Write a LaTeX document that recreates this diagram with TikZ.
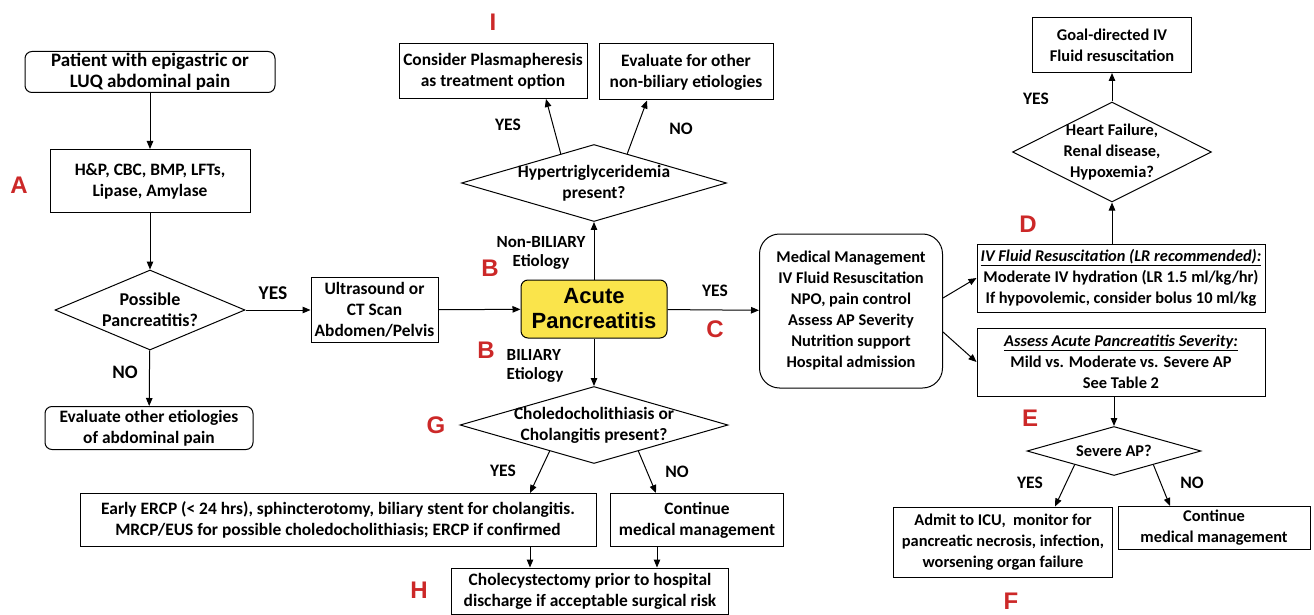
\documentclass[tikz,border=0pt]{standalone}
\usepackage{fontspec}
\setmainfont{Carlito}
\newfontfamily\arialfont{Liberation Sans}
\usetikzlibrary{shapes.geometric,arrows.meta,positioning,calc}
\definecolor{apyellow}{RGB}{250,228,75}
\definecolor{tagred}{RGB}{204,40,40}

\begin{document}
\begin{tikzpicture}[x=1pt,y=-1pt,
  box/.style={rectangle,draw,line width=1pt,align=center,inner sep=1pt,font=\fontsize{17.4}{21}\selectfont\bfseries},
  rbox/.style={box,rounded corners=7pt},
  small/.style={font=\fontsize{16.4}{21}\selectfont\bfseries},
  dec/.style={diamond,draw,line width=1pt,align=center,inner sep=-3pt,font=\fontsize{17.4}{21}\selectfont\bfseries},
  arrow/.style={-{Triangle[length=8pt,width=6.5pt]},line width=1pt},
  tag/.style={font=\arialfont\fontsize{24}{24}\selectfont\bfseries,text=tagred},
  yn/.style={font=\fontsize{17.5}{19}\selectfont\bfseries,align=center}]
\useasboundingbox (0,0) rectangle (1314,615);

% left column
\node[rbox,minimum width=250pt,minimum height=41pt,font=\fontsize{19}{21}\selectfont\bfseries] (pat) at (150,72) {Patient with epigastric or\\LUQ abdominal pain};
\node[box,minimum width=200pt,minimum height=63pt] (hp) at (150,181) {H\&P, CBC, BMP, LFTs,\\Lipase, Amylase};
\node[dec,shape aspect=2.4,minimum width=190pt,minimum height=80pt,font=\fontsize{18}{21}\selectfont\bfseries] (poss) at (150,310) {Possible\\Pancreatitis?};
\node[rbox,minimum width=208pt,minimum height=43pt] (evalo) at (149,428) {Evaluate other etiologies\\of abdominal pain};
\node[box,minimum width=127pt,minimum height=65pt,right=65pt of poss] (us) {Ultrasound or\\CT Scan\\Abdomen/Pelvis};

% acute pancreatitis and non-biliary branch
\node[rbox,fill=apyellow,minimum width=146pt,minimum height=58pt,font=\arialfont\fontsize{22}{25}\selectfont\bfseries] (acute) at (594,309) {Acute\\Pancreatitis};
\node[dec,shape aspect=3.4,minimum width=265pt,minimum height=77pt] (hyp) at (594,183) {Hypertriglyceridemia\\present?};
\node[box,minimum width=188pt,minimum height=55pt] (plas) at (493,71) {Consider Plasmapheresis\\as treatment option};
\node[box,minimum width=174pt,minimum height=56pt] (nonb) at (686,72) {Evaluate for other\\non-biliary etiologies};

% biliary branch
\node[dec,shape aspect=3.5,minimum width=268pt,minimum height=77pt] (cho) at (594,425) {Choledocholithiasis or\\Cholangitis present?};
\node[box,minimum width=516pt,minimum height=53pt] (ercp) at (338,520) {Early ERCP (< 24 hrs), sphincterotomy, biliary stent for cholangitis.\\MRCP/EUS for possible choledocholithiasis; ERCP if confirmed};
\node[box,minimum width=173pt,minimum height=53pt] (cont1) at (697,520) {Continue\\medical management};
\node[box,minimum width=277pt,minimum height=46pt] (chole) at (590,591) {Cholecystectomy prior to hospital\\discharge if acceptable surgical risk};

% medical management
\node[rbox,small,rounded corners=20pt,minimum width=183pt,minimum height=154pt] (med) at (851,311) {Medical Management\\IV Fluid Resuscitation\\NPO, pain control\\Assess AP Severity\\Nutrition support\\Hospital admission};
\node[box,small,minimum width=288pt,minimum height=68pt] (iv) at (1121,278) {\underline{\textit{IV Fluid Resuscitation (LR recommended):}}\\Moderate IV hydration (LR 1.5 ml/kg/hr)\\If hypovolemic, consider bolus 10 ml/kg};
\node[box,small,minimum width=288pt,minimum height=68pt] (assess) at (1121,362) {\underline{\textit{Assess Acute Pancreatitis Severity:}}\\Mild vs. Moderate vs. Severe AP\\See Table 2};
\node[dec,small,shape aspect=2,minimum width=199pt,minimum height=100pt] (heart) at (1112,152) {Heart Failure,\\Renal disease,\\Hypoxemia?};
\node[box,small,minimum width=159pt,minimum height=55pt] (goal) at (1112,45) {Goal-directed IV\\Fluid resuscitation};
\node[dec,small,shape aspect=3.5,minimum width=174pt,minimum height=49pt] (sev) at (1114,451) {Severe AP?};
\node[box,small,minimum width=219pt,minimum height=70pt] (admit) at (1003,542) {Admit to ICU,~ monitor for\\pancreatic necrosis, infection,\\worsening organ failure};
\node[box,small,minimum width=192pt,minimum height=43pt] (cont2) at (1214,528) {Continue\\medical management};

% connectors
\draw[arrow] (pat) -- (hp);
\draw[arrow] (hp) -- (poss);
\draw[arrow] (poss) -- (evalo);
\draw[arrow] (poss) -- (us);
\draw[arrow] (us) -- (acute);
\draw[arrow] (acute) -- (hyp);
\draw[arrow] ($(hyp.north)!0.25!(hyp.west)$) -- ([xshift=53pt]plas.south);
\draw[arrow] ($(hyp.north)!0.25!(hyp.east)$) -- ([xshift=-39pt]nonb.south);
\draw[arrow] (acute) -- (cho);
\draw[arrow] ($(cho.south)!0.33!(cho.west)$) -- ([xshift=192pt]ercp.north);
\draw[arrow] ($(cho.south)!0.33!(cho.east)$) -- ([xshift=-41pt]cont1.north);
\draw[arrow] ([xshift=192pt]ercp.south) -- ([xshift=192pt]ercp.south |- chole.north);
\draw[arrow] ([xshift=-40pt]cont1.south) -- ([xshift=-40pt]cont1.south |- chole.north);
\draw[arrow] (acute) -- (med);
\draw[arrow] ([yshift=13pt]med.east) -- (iv.west);
\draw[arrow] ([yshift=-21pt]med.east) -- (assess.west);
\draw[arrow] (heart.south |- iv.north) -- (heart.south);
\draw[arrow] (heart) -- (goal);
\draw[arrow] (sev.north |- assess.south) -- (sev.north);
\draw[arrow] ($(sev.south)!0.45!(sev.west)$) -- ([xshift=52pt]admit.north);
\draw[arrow] ($(sev.south)!0.45!(sev.east)$) -- ([xshift=-44pt]cont2.north);

% branch labels
\node[yn,font=\fontsize{19.5}{21}\selectfont\bfseries] (yes1) at (273,293) {YES};
\node[yn,font=\fontsize{19}{21}\selectfont\bfseries] (no1) at (125,372) {NO};
\node[yn] (yes2) at (508,125) {YES};
\node[yn] (no2) at (681,129) {NO};
\node[yn,font=\fontsize{17}{19}\selectfont\bfseries] (nbil) at (541,253) {Non-BILIARY\\Etiology};
\node[yn,align=left,font=\fontsize{17}{19}\selectfont\bfseries] (bil) at (535,366) {BILIARY\\Etiology};
\node[yn] (yes3) at (503,471) {YES};
\node[yn] (no3) at (677,472) {NO};
\node[yn] (yes4) at (715,291) {YES};
\node[yn] (yes5) at (1036,99) {YES};
\node[yn] (yes6) at (1030,483) {YES};
\node[yn] (no6) at (1192,483) {NO};

% step letters
\node[tag] (tA) at (19,185) {A};
\node[tag] (tB1) at (490,268) {B};
\node[tag] (tB2) at (486,350) {B};
\node[tag] (tC) at (715,329) {C};
\node[tag] (tD) at (1028,224) {D};
\node[tag] (tE) at (1030,418) {E};
\node[tag] (tF) at (1011,601) {F};
\node[tag] (tG) at (436,425) {G};
\node[tag] (tH) at (419,590) {H};
\node[tag] (tI) at (493,22) {I};
\end{tikzpicture}
\end{document}
